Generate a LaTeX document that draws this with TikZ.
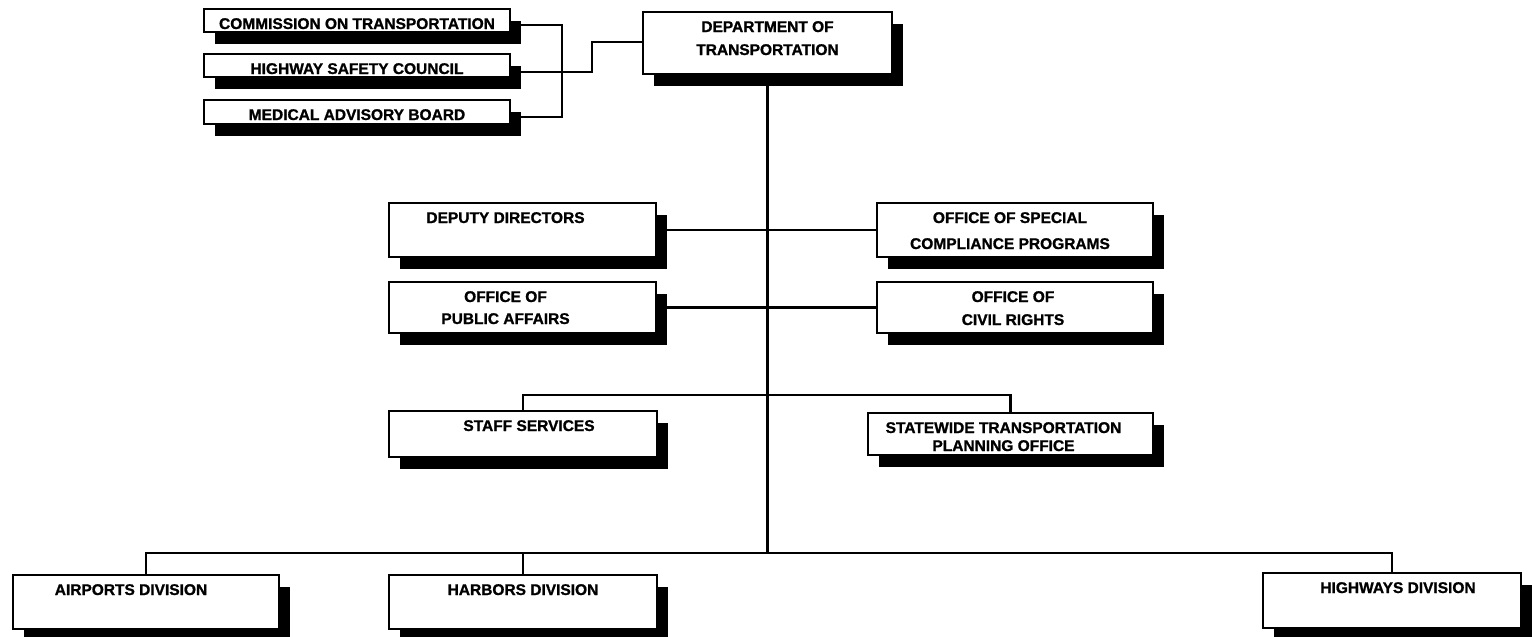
\documentclass[tikz,border=0pt]{standalone}
\usepackage{fontspec}
\setmainfont{Liberation Sans}[BoldFeatures={FakeBold=1.2}]
\usetikzlibrary{shadows}
\pgfdeclarelayer{bg}
\pgfsetlayers{bg,main}
% #1 width, #2 height, #3 twice the text shift, #4 baselineskip, #5 lines
\newcommand{\bx}[5]{\parbox[c][#2pt][t]{#1pt}{\fontsize{15.5}{#4}\selectfont\bfseries\makebox[#1pt]{\rule{0pt}{20pt}\hspace*{#3pt}\begin{tabular}[t]{@{}c@{}}#5\end{tabular}}}}
\tikzset{
  orgbox/.style={draw, line width=2.4pt, fill=white, inner sep=0pt, outer sep=0pt,
    anchor=north west,
    drop shadow={shadow xshift=11pt, shadow yshift=-12pt, fill=black, opacity=1}},
  conn/.style={line width=2.8pt},
  trunk/.style={line width=3.2pt},
}
\begin{document}
\begin{tikzpicture}[x=1pt,y=-1pt]
\useasboundingbox (0,0) rectangle (1532,637);
\node[orgbox] (com) at (204,9) {\bx{306}{23}{0}{23pt}{COMMISSION ON TRANSPORTATION}};
\node[orgbox] (hsc) at (204,54) {\bx{306}{23}{0}{23pt}{HIGHWAY SAFETY COUNCIL}};
\node[orgbox] (mab) at (204,100) {\bx{306}{24}{0}{23pt}{MEDICAL ADVISORY BOARD}};
\node[orgbox] (dot) at (643,12) {\bx{249}{62}{0}{23pt}{DEPARTMENT OF\\TRANSPORTATION}};
\node[orgbox] (dep) at (389,203) {\bx{267}{54}{-34}{23pt}{DEPUTY DIRECTORS}};
\node[orgbox] (oscp) at (877,203) {\bx{276}{54}{-10}{26pt}{OFFICE OF SPECIAL\\COMPLIANCE PROGRAMS}};
\node[orgbox] (opa) at (389,282) {\bx{267}{51}{-34}{22pt}{OFFICE OF\\PUBLIC AFFAIRS}};
\node[orgbox] (ocr) at (877,282) {\bx{276}{51}{-4}{23pt}{OFFICE OF\\CIVIL RIGHTS}};
\node[orgbox] (staff) at (389,411) {\bx{268}{46}{12}{23pt}{STAFF SERVICES}};
\node[orgbox] (swt) at (868,413) {\bx{285}{42}{-14}{18pt}{STATEWIDE TRANSPORTATION\\PLANNING OFFICE}};
\node[orgbox] (air) at (13,575) {\bx{266}{54}{-30}{23pt}{AIRPORTS DIVISION}};
\node[orgbox] (har) at (389,575) {\bx{268}{54}{0}{23pt}{HARBORS DIVISION}};
\node[orgbox] (hwy) at (1263,573) {\bx{258}{55}{12}{23pt}{HIGHWAYS DIVISION}};
\coordinate (b1) at (562,25);
\coordinate (b3) at (562,117);
\coordinate (s1) at (592,72);
\coordinate (s2) at (592,42);
\coordinate (mid) at (768,395);
\coordinate (bus) at (768,553);
\begin{pgfonlayer}{bg}
\draw[conn] (com.east |- b1) -- (b1) -- (b3) -- (mab.east |- b3);
\draw[conn] (hsc.east |- s1) -- (s1) -- (s2) -- (dot.west |- s2);
\draw[trunk] (dot.south) -- (dot.south |- bus);
\draw[conn] (dep.east) -- (oscp.west);
\draw[conn] (opa.east) -- (ocr.west);
\draw[conn] (staff.north) |- (mid) -| (swt.north);
\draw[conn] (air.north) |- (bus) -| (hwy.north);
\draw[conn] (har.north) -- (har.north |- bus);
\end{pgfonlayer}
\end{tikzpicture}
\end{document}
